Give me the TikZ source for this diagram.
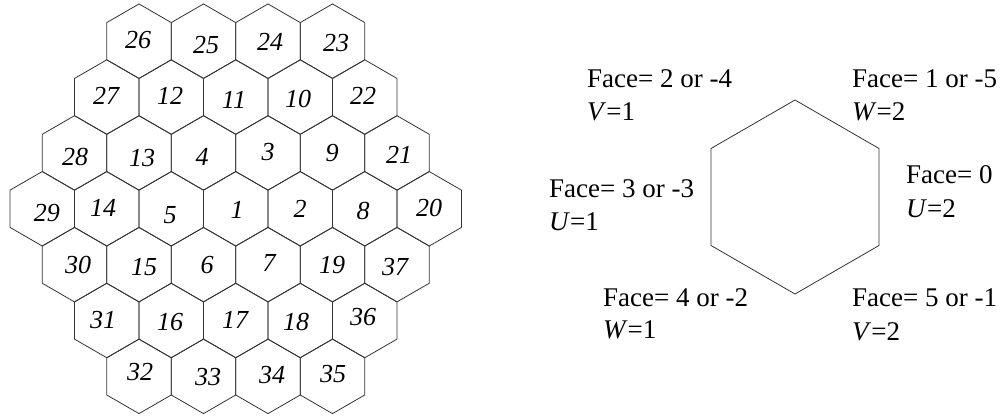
\documentclass[tikz,border=0pt]{standalone}
\usepackage{fontspec}
\setmainfont{Liberation Serif}
\begin{document}
\begin{tikzpicture}[x=1pt,y=-1pt,
  hexline/.style={line width=0.8pt, draw=black!80},
  num/.style={font=\fontsize{26}{26}\selectfont\itshape, inner sep=0pt},
  lbl/.style={font=\fontsize{27}{33}\selectfont, inner sep=0pt, anchor=base west}]
\useasboundingbox (0,0) rectangle (1004,417);
\def\hs{37.24}
\foreach \r/\nn in {0/4,1/5,2/6,3/7,4/6,5/5,6/4}{
  \pgfmathsetmacro\xo{42.25+abs(\r-3)*32.25}
  \pgfmathsetmacro\yc{41.2+\r*55.86}
  \foreach \i in {1,...,\nn}{
    \pgfmathsetmacro\xc{\xo+(\i-1)*64.5}
    \draw[hexline] (\xc,\yc) +(90:\hs) -- +(30:\hs) -- +(-30:\hs) -- +(-90:\hs) -- +(-150:\hs) -- +(150:\hs) -- cycle;
  }
}
% row 0
\node[num] (n26) at (138,40) {26};
\node[num] (n25) at (206,45) {25};
\node[num] (n24) at (270,42) {24};
\node[num] (n23) at (336,43) {23};
% row 1
\node[num] (n27) at (106,96) {27};
\node[num] (n12) at (170,96) {12};
\node[num] (n11) at (234,100) {11};
\node[num] (n10) at (298,99) {10};
\node[num] (n22) at (363,96) {22};
% row 2
\node[num] (n28) at (75,157) {28};
\node[num] (n13) at (142,158) {13};
\node[num] (n4) at (202,157) {4};
\node[num] (n3) at (268,152) {3};
\node[num] (n9) at (332,153) {9};
\node[num] (n21) at (399,155) {21};
% row 3
\node[num] (n29) at (47,213) {29};
\node[num] (n14) at (103,208) {14};
\node[num] (n5) at (170,215) {5};
\node[num] (n1) at (237,210) {1};
\node[num] (n2) at (300,209) {2};
\node[num] (n8) at (363,211) {8};
\node[num] (n20) at (429,208) {20};
% row 4
\node[num] (n30) at (78,265) {30};
\node[num] (n15) at (144,267) {15};
\node[num] (n6) at (207,265) {6};
\node[num] (n7) at (269,263) {7};
\node[num] (n19) at (332,265) {19};
\node[num] (n37) at (395,267) {37};
% row 5
\node[num] (n31) at (103,320) {31};
\node[num] (n16) at (170,322) {16};
\node[num] (n17) at (235,320) {17};
\node[num] (n18) at (296,322) {18};
\node[num] (n36) at (363,317) {36};
% row 6
\node[num] (n32) at (140,372) {32};
\node[num] (n33) at (208,377) {33};
\node[num] (n34) at (272,375) {34};
\node[num] (n35) at (333,374) {35};
% single hexagon
\draw[hexline] (795,197) +(90:97) -- +(30:97) -- +(-30:97) -- +(-90:97) -- +(-150:97) -- +(150:97) -- cycle;
% labels
\node[lbl] (f2) at (587,88) {Face= 2 or -4};
\node[lbl] (v1) at (587,121) {\textit{V}=1};
\node[lbl] (f1) at (852,88) {Face= 1 or -5};
\node[lbl] (w2) at (852,121) {\textit{W}=2};
\node[lbl] (f0) at (906,183) {Face= 0};
\node[lbl] (u2) at (906,217) {\textit{U}=2};
\node[lbl] (f3) at (549,197) {Face= 3 or -3};
\node[lbl] (u1) at (549,230) {\textit{U}=1};
\node[lbl] (f4) at (603,306) {Face= 4 or -2};
\node[lbl] (w1) at (603,338) {\textit{W}=1};
\node[lbl] (f5) at (852,306) {Face= 5 or -1};
\node[lbl] (v2) at (852,340) {\textit{V}=2};
\end{tikzpicture}
\end{document}
